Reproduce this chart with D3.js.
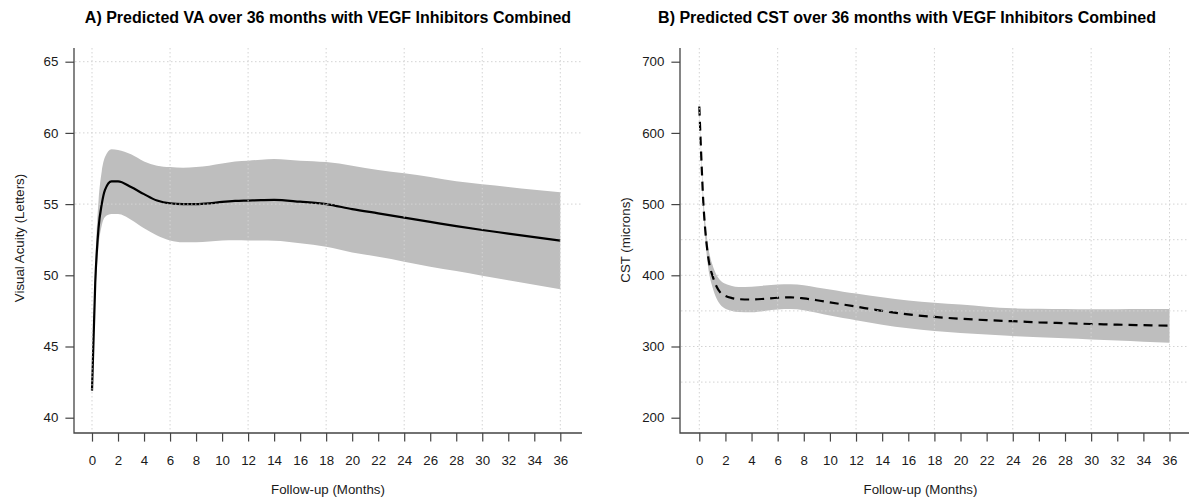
<!DOCTYPE html>
<html>
<head>
<meta charset="utf-8">
<script src="https://cdn.jsdelivr.net/npm/d3@7"></script>
<style>
  html, body { margin: 0; padding: 0; background: #fff; }
  svg { display: block; font-family: "Liberation Sans", Arial, Helvetica, sans-serif; }
</style>
</head>
<body>
<svg id="chart" width="1189" height="499"></svg>
<script>
// ---------------- DATA ----------------
const monthTicks = [0,2,4,6,8,10,12,14,16,18,20,22,24,26,28,30,32,34,36];
const monthGrid = [0,6,12,18,24,30,36];

// Panel A: Visual Acuity (letters)
const vaMonths = [0,0.25,0.5,0.75,1,1.5,2,3,4,5,6,7,8,9,10,11,12,13,14,16,18,20,22,24,26,28,30,32,34,36];
const vaFit    = [41.9,49.5,53.3,55.0,56.0,56.6,56.6,56.2,55.7,55.25,55.05,55.0,55.0,55.05,55.15,55.22,55.25,55.28,55.3,55.17,55.0,54.65,54.35,54.05,53.75,53.45,53.18,52.93,52.68,52.43];
const vaLower  = [41.8,48.5,52.0,53.5,54.1,54.3,54.3,53.9,53.3,52.8,52.45,52.32,52.32,52.38,52.45,52.46,52.45,52.44,52.43,52.25,52.0,51.6,51.3,50.96,50.6,50.3,49.97,49.65,49.33,49.02];
const vaUpper  = [42.0,50.8,55.2,57.3,58.3,58.85,58.8,58.5,58.0,57.7,57.6,57.56,57.6,57.7,57.85,58.0,58.05,58.12,58.17,58.05,57.95,57.7,57.4,57.16,56.9,56.6,56.39,56.2,56.0,55.83];
const vaTicks  = [40,45,50,55,60,65];
const vaGrid   = [55,60,65];

// Panel B: Central Subfield Thickness (microns)
const cstMonths = [0,0.1,0.2,0.3,0.45,0.6,0.8,1,1.33,1.6,2,2.5,3,4,5,6,7,8,9,10,11,12,14,16,18,20,22,24,26,28,30,32,34,36];
const cstFit    = [637,590,545,505,465,437,413,400,384,376,371,368,366.5,366,367,368.5,369,367.5,365,362,359,356,350,345,341.5,339,337,335.5,334,332.8,331.6,330.7,329.9,329.2];
const cstLower  = [633,585,538,496,453,423,398,384,367,359,353,350,348.5,348,350,352,352.5,351,347.5,343.5,340,337,330.5,325.5,321.8,319,316.7,314.7,313,311.5,310,308.4,306.8,305.3];
const cstUpper  = [641,596,553,515,477,451,428,415,400,393,388,385,383.5,384,385.5,387,387.5,386,383,380,377,374.5,369,364.5,361.5,359,356,353.6,353,352.5,352.2,352.3,352.5,352.7];
const cstTicks  = [200,300,400,500,600,700];
const cstGrid   = [250,300,350,400,450,500];

// ---------------- DRAW ----------------
const svg = d3.select("#chart");

function panel(cfg) {
  const g = svg.append("g");
  const x = d3.scaleLinear().domain([0,36]).range(cfg.xRange);
  const y = d3.scaleLinear().domain(cfg.yDomain).range([417.7, 61.7]);
  const rows = cfg.months.map((m,i) => ({m, fit: cfg.fit[i], lo: cfg.lo[i], hi: cfg.hi[i]}));

  // confidence band
  g.append("path")
    .datum(rows)
    .attr("fill", "#bebebe")
    .attr("stroke", "none")
    .attr("d", d3.area().curve(d3.curveMonotoneX)
      .x(d => x(d.m)).y0(d => y(d.lo)).y1(d => y(d.hi)));

  // fitted line
  g.append("path")
    .datum(rows)
    .attr("fill", "none")
    .attr("stroke", "#000")
    .attr("stroke-width", 2.2)
    .attr("stroke-dasharray", cfg.dash || null)
    .attr("d", d3.line().curve(d3.curveMonotoneX).x(d => x(d.m)).y(d => y(d.fit)));

  // grid (drawn on top)
  const grid = g.append("g").attr("stroke", "#d3d3d3").attr("stroke-width", 1)
    .attr("stroke-dasharray", "1.5,2.5").attr("fill", "none");
  grid.selectAll("line.v").data(monthGrid).join("line")
    .attr("x1", d => x(d)).attr("x2", d => x(d))
    .attr("y1", cfg.top).attr("y2", cfg.bottom);
  grid.selectAll("line.h").data(cfg.grid).join("line")
    .attr("x1", cfg.left + 1).attr("x2", cfg.right)
    .attr("y1", d => y(d)).attr("y2", d => y(d));

  // axes
  const xAxis = g.append("g").attr("transform", `translate(0,${cfg.bottom})`)
    .call(d3.axisBottom(x).tickValues(monthTicks).tickSize(8.6).tickPadding(13.5).tickFormat(d3.format("d")));
  const yAxis = g.append("g").attr("transform", `translate(${cfg.left},0)`)
    .call(d3.axisLeft(y).tickValues(cfg.yTicks).tickSize(8.6).tickPadding(7).tickFormat(d3.format("d")));
  [xAxis, yAxis].forEach(a => {
    a.select(".domain").remove();
    a.selectAll(".tick line").attr("stroke", "#444").attr("stroke-width", 1.2);
    a.selectAll(".tick text").attr("fill", "#1a1a1a").style("font-size", "13.3px")
      .style("font-family", "'Liberation Sans', Arial, sans-serif");
  });
  // L-shaped axis lines
  g.append("path")
    .attr("fill", "none").attr("stroke", "#444").attr("stroke-width", 1.3)
    .attr("d", `M${cfg.left},${cfg.top}V${cfg.bottom}H${cfg.right}`);

  // labels
  g.append("text")
    .attr("x", cfg.titleX).attr("y", 22.5)
    .attr("text-anchor", "middle")
    .style("font-size", "16px").style("font-weight", "bold").attr("fill", "#000")
    .text(cfg.title);
  g.append("text")
    .attr("x", (cfg.left + cfg.right) / 2 + (cfg.xTitleShift || 0)).attr("y", 494)
    .attr("text-anchor", "middle")
    .style("font-size", "13.3px").attr("fill", "#1a1a1a")
    .text("Follow-up (Months)");
  g.append("text")
    .attr("transform", `translate(${cfg.yTitleX},${cfg.yTitleY}) rotate(-90)`)
    .attr("text-anchor", "middle")
    .style("font-size", "13.3px").attr("fill", "#1a1a1a")
    .text(cfg.yTitle);
}

panel({
  months: vaMonths, fit: vaFit, lo: vaLower, hi: vaUpper,
  xRange: [92, 560.3], yDomain: [40, 65], yTicks: vaTicks, grid: vaGrid,
  left: 74, right: 582, top: 48, bottom: 433,
  title: "A) Predicted VA over 36 months with VEGF Inhibitors Combined", titleX: 328,
  yTitle: "Visual Acuity (Letters)", yTitleX: 23.5, yTitleY: 238
});

panel({
  months: cstMonths, fit: cstFit, lo: cstLower, hi: cstUpper, dash: "9,6",
  xRange: [699.3, 1169.5], yDomain: [200, 700], yTicks: cstTicks, grid: cstGrid,
  left: 680, right: 1189, top: 48, bottom: 433,
  title: "B) Predicted CST over 36 months with VEGF Inhibitors Combined", titleX: 907,
  yTitle: "CST (microns)", yTitleX: 630, yTitleY: 240, xTitleShift: -14
});
</script>
</body>
</html>
